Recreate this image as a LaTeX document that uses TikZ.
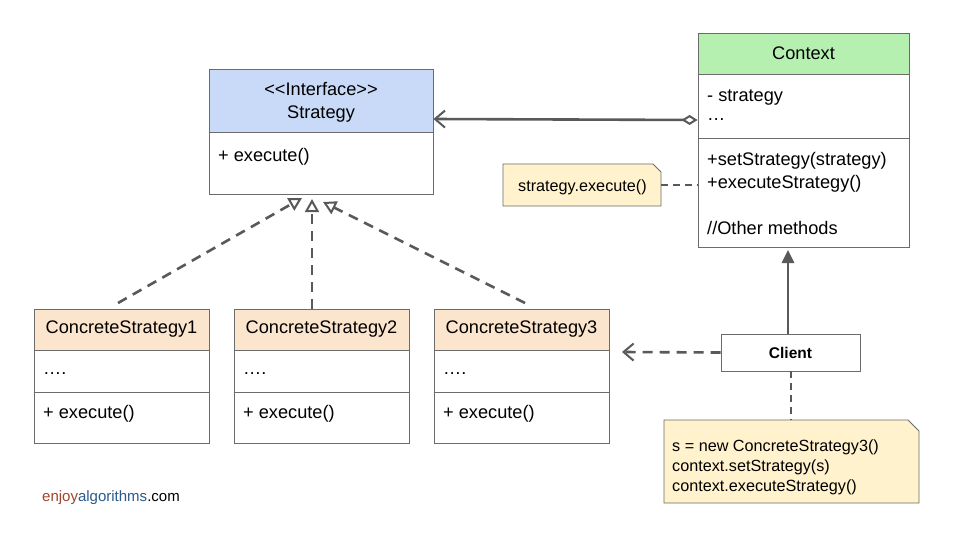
\documentclass[tikz,border=0pt]{standalone}
\usepackage{fontspec}
\setmainfont{Liberation Sans}
\usetikzlibrary{arrows.meta,calc}
\definecolor{ln}{HTML}{595959}
\definecolor{bd}{HTML}{6B6B6B}
\definecolor{hblue}{HTML}{C9DAF8}
\definecolor{hgreen}{HTML}{B6F0B0}
\definecolor{hpeach}{HTML}{FCE5CD}
\definecolor{noteyel}{HTML}{FFF2CC}
\definecolor{enjoyc}{HTML}{A0452E}
\definecolor{algoc}{HTML}{2B5A8C}
\tikzset{
  box/.style={draw=bd, line width=0.9pt, inner sep=0pt},
  hdr/.style={draw=bd, line width=0.9pt, inner sep=0pt, anchor=north, align=center, font=\fontsize{18.2}{22.5}\selectfont},
  txt/.style={anchor=west, inner sep=0pt, font=\fontsize{18.2}{22}\selectfont},
  ntxt/.style={anchor=west, inner sep=0pt, align=left, font=\fontsize{16.2}{20}\selectfont},
  note/.style={fill=noteyel, draw=bd, line width=0.9pt},
  conn/.style={draw=ln, line width=2.6pt},
  dconn/.style={draw=ln, line width=2.6pt, dash pattern=on 10pt off 7pt},
  nconn/.style={draw=ln, line width=1.8pt, dash pattern=on 7pt off 5pt},
  realize/.style={-{Triangle[open, length=13pt, width=14pt, line width=2pt]}},
  barb/.style={-{Straight Barb[length=10pt, width=17pt, line width=2pt]}},
}
\begin{document}
\begin{tikzpicture}[x=1pt,y=-1pt]
\useasboundingbox[fill=white] (0,0) rectangle (960,540);

% Strategy
\node[box, minimum width=224pt, minimum height=125pt] (strat) at (321,131.5) {};
\node[hdr, fill=hblue, minimum width=224pt, minimum height=63pt, text depth=-3pt] (stratH) at (strat.north) {<\kern0pt<Interface>\kern0pt>\\Strategy};
\node[txt] (stratM) at (218,157) {+ execute()};

% Context
\node[box, minimum width=211pt, minimum height=214pt] (ctx) at (803.5,140) {};
\node[hdr, fill=hgreen, minimum width=211pt, minimum height=41pt] (ctxH) at (ctx.north) {Context};
\draw[draw=bd, line width=0.9pt] (698,138) -- (909,138);
\node[txt] (ctxA1) at (707,98) {- strategy};
\node[txt] (ctxA2) at (707,120) {\ldots};
\node[txt] (ctxM1) at (707,161) {+setStrategy(strategy)};
\node[txt] (ctxM2) at (707,184) {+executeStrategy()};
\node[txt] (ctxM3) at (707,228) {//Other methods};

% Concrete strategies
\foreach \n/\cx/\lx in {1/121.5/43, 2/321.5/243, 3/521.5/443}{
  \node[box, minimum width=175pt, minimum height=134pt] (cs\n) at (\cx,376) {};
  \node[hdr, fill=hpeach, minimum width=175pt, minimum height=41pt] (cs\n H) at (cs\n.north) {\raisebox{-2pt}{ConcreteStrategy\n}};
  \draw[draw=bd, line width=0.9pt] ($(cs\n.west)+(0,16)$) -- ($(cs\n.east)+(0,16)$);
  \node[txt] (cs\n A) at (\lx,374) {\ldots.};
  \node[txt] (cs\n M) at (\lx,414) {+ execute()};
}

% Client
\node[box, minimum width=139pt, minimum height=37pt, font=\fontsize{15.5}{19}\selectfont\bfseries] (client) at (790.5,352.5) {Client};

% Notes
\draw[note] (503,164) -- (653,164) -- (661,172) -- (661,206) -- (503,206) -- cycle;
\node[ntxt] (note1) at (518,187) {strategy.execute()};
\draw[note] (664,420) -- (908,420) -- (919,431) -- (919,503) -- (664,503) -- cycle;
\node[ntxt] (note2) at (672,467) {s = new ConcreteStrategy3()\\context.setStrategy(s)\\context.executeStrategy()};

% Connectors
\coordinate (aggS) at (ctx.west |- 0,120);
\coordinate (aggE) at (strat.east |- 0,119);
\draw[conn, {Diamond[open, length=16pt, width=10pt, line width=2pt]}-{Straight Barb[length=10pt, width=17pt, line width=2pt]}] (aggS) -- (aggE);

\coordinate (r1s) at (118,303);
\coordinate (r1e) at (302,198);
\coordinate (r2s) at (cs2.north -| 312,0);
\coordinate (r2e) at (312,199);
\coordinate (r3s) at (525,303);
\coordinate (r3e) at (323,202);
\draw[dconn, realize] (r1s) -- (r1e);
\draw[dconn, realize] (r2s) -- (r2e);
\draw[dconn, realize] (r3s) -- (r3e);

\coordinate (cuE) at (788,250);
\draw[conn, -{Triangle[length=13pt, width=12pt]}] (client.north -| 788,0) -- (cuE);
\coordinate (ccE) at (622,352);
\draw[dconn, barb] (client.west) -- (ccE);

\draw[nconn] (661,185) -- (ctx.west |- 0,185);
\draw[nconn] (client.south -| 791,0) -- (791,420);

% Logo
\node[anchor=west, inner sep=0pt, font=\fontsize{15}{18}\selectfont] (logo) at (42,498) {\textcolor{enjoyc}{enjoy}\textcolor{algoc}{algorithms}.com};
\end{tikzpicture}
\end{document}
